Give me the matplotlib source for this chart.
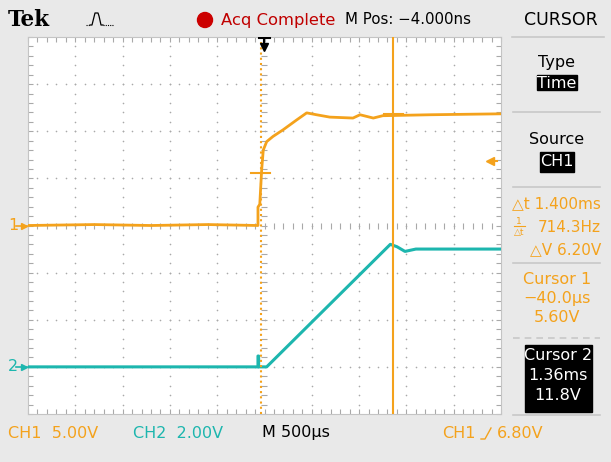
import numpy as np
import matplotlib.pyplot as plt
from matplotlib.patches import Rectangle, Circle

W, H = 611, 462

# CH1 trace (time in ms, volts), 5.00 V/div, ground on centre line
ch1_t = [-2.5, -1.8, -1.2, -0.6, -0.069, -0.069, -0.05, -0.03, -0.013, 0.023, 0.09, 0.196,
         0.34, 0.446, 0.55, 0.69, 0.935, 1.01, 1.15, 1.25, 1.75, 2.5]
ch1_v = [0.0, 0.1, 0.0, 0.1, 0.0, 1.95, 2.25, 5.9, 8.0, 8.9, 9.45, 10.15,
         11.2, 11.95, 11.75, 11.5, 11.4, 11.75, 11.4, 11.65, 11.75, 11.85]
# CH2 trace, 2.00 V/div, ground 3 div below centre
ch2_t = [-2.5, -0.069, -0.069, -0.062, -0.062, 0.023, 1.33, 1.40, 1.485, 1.60, 2.5]
ch2_v = [0.0, 0.0, 0.46, 0.46, 0.0, 0.0, 5.2, 5.1, 4.9, 5.0, 5.0]

ch1_scale, ch2_scale = 5.0, 2.0
ch1_pos, ch2_pos = 0.0, -3.0
cursor_t = [-0.040, 1.36]
cursor_v = [5.60, 11.8]
trig_level = 6.80

orange = '#f4a21c'
teal = '#1db6ae'
gray = '#a9a9a9'
FONT = ['Liberation Sans Narrow', 'DejaVu Sans']

fig = plt.figure(figsize=(W / 100, H / 100), dpi=100, facecolor='#e9e9e9')

# scope screen, x in ms, y in divisions
scr = fig.add_axes([28 / W, 1 - 414 / H, 473 / W, 377 / H])
scr.set_xlim(-2.5, 2.5)
scr.set_ylim(-4, 4)
scr.set_facecolor('white')
scr.set_xticks(np.arange(-2.5, 2.51, 0.1))
scr.set_yticks(np.arange(-4, 4.01, 0.2))
scr.tick_params(direction='in', length=3.5, width=0.8, color=gray, top=True, right=True,
                labelbottom=False, labelleft=False)
for s in scr.spines.values():
    s.set_color('#c4c4c4')

# dotted graticule
xs = np.arange(-2.5, 2.51, 0.1)
ys = np.arange(-4, 4.01, 0.2)
for gx in [-2.0, -1.5, -1.0, -0.5, 0.5, 1.0, 1.5, 2.0]:
    scr.scatter([gx] * len(ys), ys, s=1.4, color=gray, lw=0)
for gy in [-3, -2, -1, 1, 2, 3]:
    scr.scatter(xs, [gy] * len(xs), s=1.4, color=gray, lw=0)
scr.plot(xs, [0] * len(xs), ls='none', marker='|', ms=4, mew=0.8, color=gray)
scr.plot([0] * len(ys), ys, ls='none', marker='_', ms=4, mew=0.8, color=gray)

# traces
scr.plot(ch2_t, np.array(ch2_v) / ch2_scale + ch2_pos, color=teal, lw=2.2, zorder=3)
scr.plot(ch1_t, np.array(ch1_v) / ch1_scale + ch1_pos, color=orange, lw=2.0, zorder=4)

# cursors
scr.axvline(cursor_t[0], color=orange, lw=1.5, ls=(0, (1, 1.5)), zorder=5)
scr.axvline(cursor_t[1], color=orange, lw=1.5, zorder=5)
for ct, cv in zip(cursor_t, cursor_v):
    scr.plot([ct - 0.1, ct + 0.1], [cv / ch1_scale] * 2, color=orange, lw=1.5, zorder=5)

# trigger markers
scr.plot([2.37, 2.46], [trig_level / ch1_scale] * 2, color=orange, lw=1.5, zorder=6)
scr.plot(2.38, trig_level / ch1_scale, marker='<', ms=6, color=orange, zorder=6)
scr.plot([0, 0], [4, 3.78], color='black', lw=1.5, zorder=6)
scr.plot(0, 3.78, marker='v', ms=6, color='black', zorder=6)
scr.plot([-0.06, 0.06], [3.97, 3.97], color='black', lw=1.5, zorder=6)

# overlay in pixel coordinates
ov = fig.add_axes([0, 0, 1, 1])
ov.set_xlim(0, W)
ov.set_ylim(H, 0)
ov.axis('off')
ov.patch.set_alpha(0)


def txt(x, y, s, color='black', size=11.5, ha='left', **kw):
    ov.text(x, y, s, color=color, fontsize=size, ha=ha, va='center', family=FONT, **kw)


ov.text(8, 20, 'Tek', fontsize=15.5, fontweight='bold', family='DejaVu Serif', va='center')
ov.plot([86, 90], [25, 25], color='black', lw=0.8, ls=(0, (1, 1)))
ov.plot([90, 92, 95, 98, 99, 101, 103], [25, 25, 13, 13, 16, 25, 25], color='black', lw=0.9)
ov.plot([103, 113], [25, 25], color='black', lw=0.8, ls=(0, (1, 1)))
ov.add_patch(Circle((205, 20), 7.5, color='#cc0000'))
txt(221, 20, 'Acq Complete', color='#c00000', size=11.8)
txt(345, 20, 'M Pos: \u22124.000ns', size=10.8)
txt(561, 20, 'CURSOR', size=12.5, ha='center')
ov.plot([512, 604], [37, 37], color='#c8c8c8', lw=1.2)

# left channel markers
y1 = 225.5 - ch1_pos * 47.1
y2 = 225.5 - ch2_pos * 47.1
txt(8, y1, '1', color=orange, size=11.5)
ov.plot(24, y1, marker='>', ms=5, color=orange)
ov.plot([16, 27], [y1, y1], color=orange, lw=1.2)
txt(8, y2, '2', color=teal, size=11.5)
ov.plot(24, y2, marker='>', ms=5, color=teal)
ov.plot([16, 27], [y2, y2], color=teal, lw=1.2)

# side menu
txt(557, 63, 'Type', size=11.5, ha='center')
ov.add_patch(Rectangle((537, 75), 40, 15, color='black'))
txt(557, 83, 'Time', color='white', size=11.5, ha='center')
ov.plot([513, 600], [112, 112], color='#c8c8c8', lw=1.2)
txt(557, 139, 'Source', size=11.5, ha='center')
ov.add_patch(Rectangle((540, 152), 34, 20, color='black'))
txt(557, 162, 'CH1', color='white', size=11.5, ha='center')
ov.plot([513, 600], [187, 187], color='#c8c8c8', lw=1.2)
txt(601, 204, '\u25b3t 1.400ms', color=orange, size=11, ha='right')
txt(519, 221, '1', color=orange, size=6.5, ha='center')
ov.plot([514, 525], [226, 226], color=orange, lw=0.8)
txt(519, 232, '\u25b3t', color=orange, size=6.5, ha='center')
txt(601, 227, '714.3Hz', color=orange, size=11, ha='right')
txt(601, 250, '\u25b3V 6.20V', color=orange, size=11, ha='right')
ov.plot([513, 600], [263, 263], color='#c8c8c8', lw=1.2)
txt(557, 279, 'Cursor 1', color=orange, size=11.5, ha='center')
txt(557, 299, '\u221240.0\u00b5s', color=orange, size=11.5, ha='center')
txt(557, 318, '5.60V', color=orange, size=11.5, ha='center')
ov.plot([513, 600], [338, 338], color='#c8c8c8', lw=1.2, ls=(0, (4, 3)))
ov.add_patch(Rectangle((525, 345), 67, 67, color='black'))
txt(558, 356, 'Cursor 2', color='white', size=11.5, ha='center')
txt(558, 375, '1.36ms', color='white', size=11.5, ha='center')
txt(558, 395, '11.8V', color='white', size=11.5, ha='center')
ov.plot([513, 600], [415, 415], color='#c8c8c8', lw=1.2)

# bottom readout
txt(8, 433, 'CH1  5.00V', color=orange, size=11.5)
txt(133, 433, 'CH2  2.00V', color=teal, size=11.5)
txt(262, 433, 'M 500\u00b5s', size=11.5)
txt(442, 433, 'CH1', color=orange, size=11.5)
ov.plot([481, 485, 491], [439, 439, 428], color=orange, lw=1.0)
txt(497, 433, '6.80V', color=orange, size=11.5)

fig.savefig('out.png', dpi=100, facecolor=fig.get_facecolor())
